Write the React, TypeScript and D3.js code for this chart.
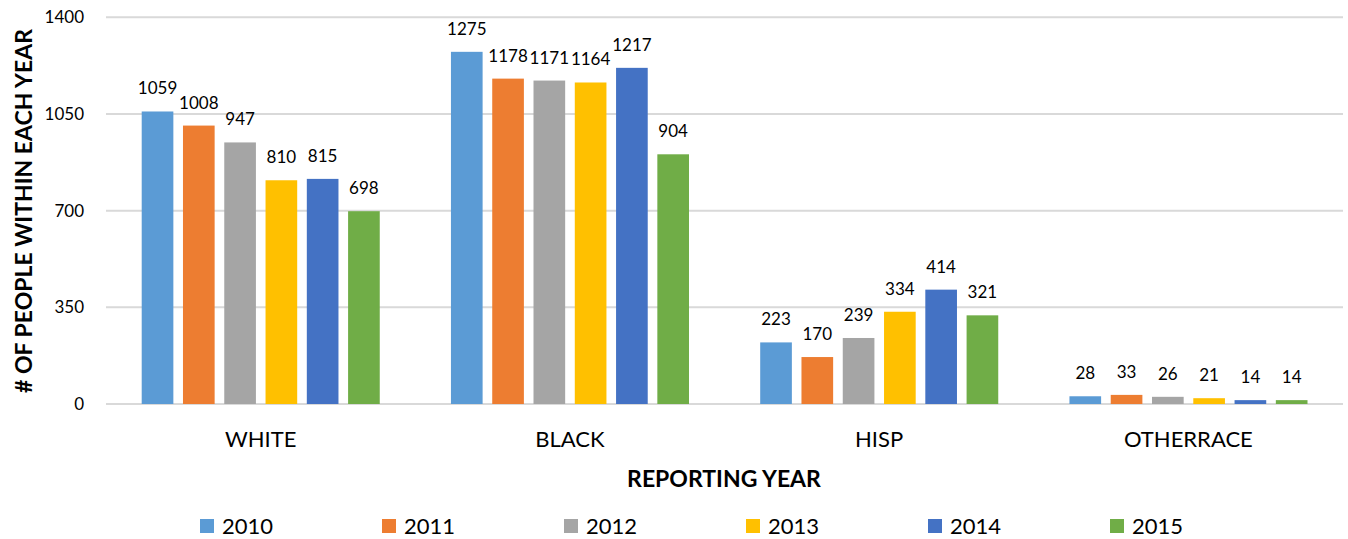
import React from "react";
import * as d3 from "d3";

const categories = ["WHITE", "BLACK", "HISP", "OTHERRACE"];
const years = ["2010", "2011", "2012", "2013", "2014", "2015"];
const v2010 = [1059, 1275, 223, 28];
const v2011 = [1008, 1178, 170, 33];
const v2012 = [947, 1171, 239, 26];
const v2013 = [810, 1164, 334, 21];
const v2014 = [815, 1217, 414, 14];
const v2015 = [698, 904, 321, 14];
const seriesValues = [v2010, v2011, v2012, v2013, v2014, v2015];
const yTicks = [0, 350, 700, 1050, 1400];
const colors = ["#5B9BD5", "#ED7D31", "#A5A5A5", "#FFC000", "#4472C4", "#70AD47"];

const W = 1348;
const H = 539;
const FONT = "Lato, 'Open Sans', sans-serif";

export default function App() {
  const x0 = d3.scaleBand().domain(categories).range([106, 1343]).paddingInner(0).paddingOuter(0);
  const x1 = d3
    .scaleBand()
    .domain(years)
    .range([35.7, x0.bandwidth() - 35.5])
    .paddingInner(0.233)
    .paddingOuter(0);
  const y = d3.scaleLinear().domain([0, 1400]).range([404, 17.3]);

  return (
    <svg width={W} height={H} style={{ position: "absolute", left: 0, top: 0, background: "#fff" }}>
      {yTicks.map((t) => (
        <g key={t}>
          <line x1={106} x2={1343} y1={y(t)} y2={y(t)} stroke="#D9D9D9" strokeWidth={2} />
          <text x={84} y={y(t)} dy="0.35em" textAnchor="end" fontFamily={FONT} fontSize={17} fill="#000">
            {t}
          </text>
        </g>
      ))}
      {categories.map((c, ci) => (
        <g key={c} transform={`translate(${x0(c)},0)`}>
          {years.map((yr, si) => {
            const v = seriesValues[si][ci];
            const bx = x1(yr)!;
            return (
              <g key={yr}>
                <rect x={bx} y={y(v)} width={x1.bandwidth()} height={y(0) - y(v)} fill={colors[si]} />
                <text
                  x={bx + x1.bandwidth() / 2}
                  y={y(v) - 17}
                  textAnchor="middle"
                  fontFamily={FONT}
                  fontSize={17}
                  fill="#000"
                >
                  {v}
                </text>
              </g>
            );
          })}
          <text x={x0.bandwidth() / 2} y={447} textAnchor="middle" fontFamily={FONT} fontSize={22} fill="#000">
            {c}
          </text>
        </g>
      ))}
      <text x={724} y={487} textAnchor="middle" fontFamily={FONT} fontWeight="bold" fontSize={23} fill="#000">
        REPORTING YEAR
      </text>
      <text
        transform={`translate(32,211) rotate(-90)`}
        textAnchor="middle"
        fontFamily={FONT}
        fontWeight="bold"
        fontSize={23}
        fill="#000"
      >
        # OF PEOPLE WITHIN EACH YEAR
      </text>
      {years.map((yr, i) => {
        const lx = 200 + i * 182;
        return (
          <g key={yr}>
            <rect x={lx} y={519} width={14} height={14} fill={colors[i]} />
            <text x={lx + 22} y={534} fontFamily={FONT} fontSize={22} fill="#000">
              {yr}
            </text>
          </g>
        );
      })}
    </svg>
  );
}
